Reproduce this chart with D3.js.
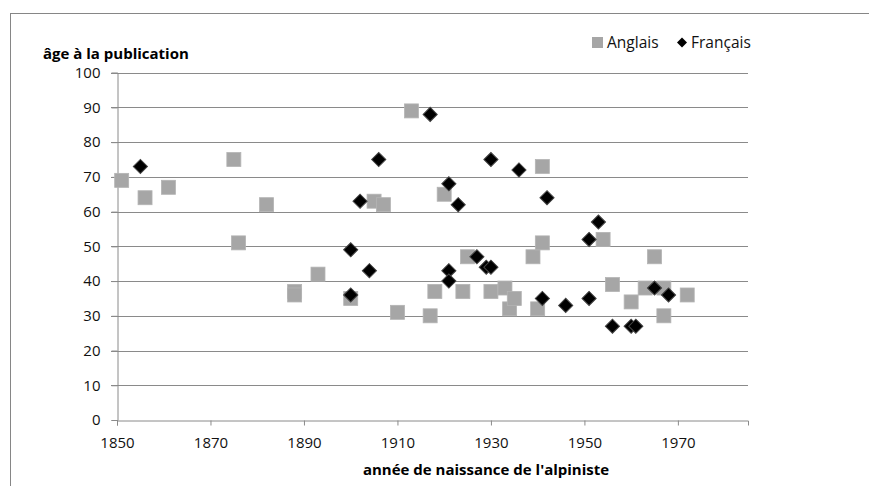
<!DOCTYPE html>
<html>
<head>
  <meta charset="UTF-8">
  <style>
    body { margin: 0; background: #fff; }
    svg { display: block; font-family: "Open Sans", sans-serif; }
  </style>
</head>
<body>
<svg></svg>
<script src="https://d3js.org/d3.v7.min.js"></script>
<script>

let width = 869, height = 486;

// birth year / age at publication
let anglaisYears = [1851, 1856, 1861, 1875, 1876, 1882, 1888, 1888, 1893, 1900, 1905, 1907,
  1910, 1913, 1917, 1918, 1920, 1924, 1925, 1930, 1933, 1934, 1935, 1939, 1940, 1941, 1941,
  1954, 1956, 1960, 1963, 1965, 1967, 1967, 1972];
let anglaisAges = [69, 64, 67, 75, 51, 62, 37, 36, 42, 35, 63, 62,
  31, 89, 30, 37, 65, 37, 47, 37, 38, 32, 35, 47, 32, 73, 51,
  52, 39, 34, 38, 47, 38, 30, 36];

let francaisYears = [1855, 1900, 1900, 1902, 1904, 1906, 1917, 1921, 1921, 1921, 1923, 1927,
  1929, 1930, 1930, 1936, 1941, 1942, 1946, 1951, 1951, 1953, 1956, 1960, 1961, 1965, 1968];
let francaisAges = [73, 49, 36, 63, 43, 75, 88, 68, 43, 40, 62, 47,
  44, 44, 75, 72, 35, 64, 33, 52, 35, 57, 27, 27, 27, 38, 36];

let xTicks = [1850, 1870, 1890, 1910, 1930, 1950, 1970];
let yTicks = [0, 10, 20, 30, 40, 50, 60, 70, 80, 90, 100];
let seriesNames = ["Anglais", "Français"];

let svg = d3.select("svg")
    .attr("width", width)
    .attr("height", height);

// chart frame
svg.append("rect")
    .attr("x", 10.5).attr("y", 13.5)
    .attr("width", 900).attr("height", 500)
    .attr("fill", "none")
    .attr("stroke", "#868686");

let x = d3.scaleLinear().domain([1850, 1985]).range([117, 748]);
let y = d3.scaleLinear().domain([0, 100]).range([420, 72.7]);

// gridlines
svg.append("g")
    .selectAll("line")
    .data(yTicks.filter(d => d > 0))
    .enter()
    .append("line")
    .attr("x1", x(1850) - 6).attr("x2", x(1985))
    .attr("y1", d => Math.round(y(d)) + 0.5)
    .attr("y2", d => Math.round(y(d)) + 0.5)
    .attr("stroke", "#8a8a8a");

// y axis
let yAxis = svg.append("g")
    .attr("transform", "translate(" + (Math.round(x(1850)) + 0.5) + ",0)")
    .call(d3.axisLeft(y).tickValues(yTicks).tickSize(6).tickPadding(11));

// x axis
let xAxis = svg.append("g")
    .attr("transform", "translate(0," + (Math.round(y(0)) + 0.5) + ")")
    .call(d3.axisBottom(x).tickValues(xTicks).tickFormat(d3.format("d")).tickSize(5).tickPadding(12));

[xAxis, yAxis].forEach(function(g) {
    g.select(".domain").attr("stroke", "#8a8a8a");
    g.selectAll(".tick line").attr("stroke", "#8a8a8a");
    g.selectAll(".tick text")
        .attr("fill", "#111")
        .style("font-family", "'Open Sans', sans-serif")
        .style("font-size", "15px");
});

// Anglais squares
let sq = 14;
svg.append("g")
    .selectAll("rect")
    .data(anglaisYears.map((d, i) => [d, anglaisAges[i]]))
    .enter()
    .append("rect")
    .attr("x", d => x(d[0]) - sq / 2)
    .attr("y", d => y(d[1]) - sq / 2)
    .attr("width", sq).attr("height", sq)
    .attr("fill", "#a6a6a6")
    .attr("stroke", "#b4b4b4")
    .attr("stroke-width", 0.8);

// Français diamonds
let diamond = d3.symbol().type(d3.symbolSquare).size(100);
svg.append("g")
    .selectAll("path")
    .data(francaisYears.map((d, i) => [d, francaisAges[i]]))
    .enter()
    .append("path")
    .attr("d", diamond)
    .attr("transform", d => "translate(" + x(d[0]) + "," + y(d[1]) + ") rotate(45)")
    .attr("fill", "#000")
    .attr("stroke", "#444")
    .attr("stroke-width", 1);

// axis titles
svg.append("text")
    .attr("x", 43).attr("y", 59)
    .attr("font-size", "15px")
    .attr("font-weight", "bold")
    .attr("fill", "#000")
    .text("âge à la publication");

svg.append("text")
    .attr("x", 486).attr("y", 475)
    .attr("text-anchor", "middle")
    .attr("font-size", "15px")
    .attr("font-weight", "bold")
    .attr("fill", "#000")
    .text("année de naissance de l'alpiniste");

// legend
let legend = svg.append("g");
legend.append("rect")
    .attr("x", 592).attr("y", 37)
    .attr("width", 11).attr("height", 11)
    .attr("fill", "#a6a6a6");
legend.append("text")
    .attr("x", 607).attr("y", 48)
    .attr("font-size", "15.5px")
    .attr("fill", "#111")
    .text(seriesNames[0]);
legend.append("path")
    .attr("d", d3.symbol().type(d3.symbolSquare).size(50))
    .attr("transform", "translate(682,42.5) rotate(45)")
    .attr("fill", "#000");
legend.append("text")
    .attr("x", 691).attr("y", 48)
    .attr("font-size", "15.5px")
    .attr("fill", "#111")
    .text(seriesNames[1]);

</script>
</body>
</html>
